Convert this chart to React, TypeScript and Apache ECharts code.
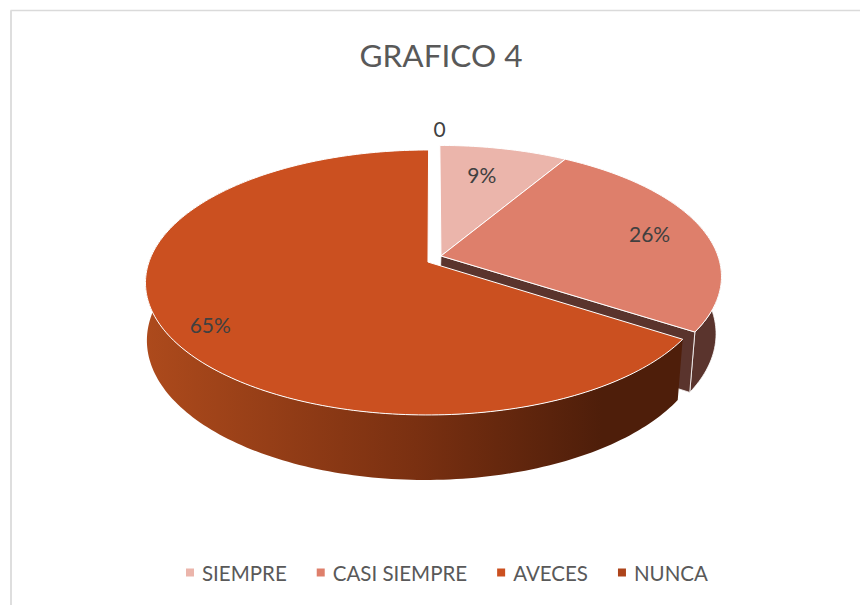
import React, { useEffect, useRef } from "react";
import * as echarts from "echarts";

const categories = ["SIEMPRE", "CASI SIEMPRE", "AVECES", "NUNCA"];
const shares = [8.5, 25.5, 65.4, 0];
const faceColors = ["#EBB5AB", "#DE7F6B", "#CB5020", "#AD441B"];
const titleText = "GRAFICO 4";

// projection of the disc
const CX = 432.5, CY = 259, RX = 278, RY = 128.4, PERSP = 0.1536, DEPTH = 57, BOTTOM_SHRINK = 1.012, BOTTOM_SHIFT = -2;
const EXPLODE = [[0.0306, -0.0236], [0.0306, -0.0236], [-0.0162, 0.0236], [0.03, -0.0236]];
const LABEL_RADIUS = [0.7, 0.76, 0.85, 1.18];
const LABEL_NUDGE = [[-5, -4], [9, -1], [5, 7], [0, 0]];
const WALL_DARK = "#5A342D";
const ORANGE_WALL = [
  { offset: 0, color: "#AD4A1C" },
  { offset: 0.5, color: "#7A3011" },
  { offset: 0.85, color: "#4E1E0A" },
  { offset: 1, color: "#4E1E0A" },
];

function project(i: number, theta: number, r: number, depth: boolean): number[] {
  const X = EXPLODE[i][0] + r * Math.sin(theta);
  const Y = EXPLODE[i][1] - r * Math.cos(theta);
  const w = (1 - PERSP * Y) * (depth ? BOTTOM_SHRINK : 1);
  return [CX + (depth ? BOTTOM_SHIFT : 0) + (RX * X) / w, CY + (RY * Y + (depth ? DEPTH : 0)) / w];
}

function arc(i: number, a: number, b: number, depth: boolean): number[][] {
  const n = Math.max(2, Math.ceil(Math.abs(b - a) / 0.02));
  const pts: number[][] = [];
  for (let k = 0; k <= n; k++) pts.push(project(i, a + ((b - a) * k) / n, 1, depth));
  return pts;
}

export default function App() {
  const ref = useRef<HTMLDivElement>(null);
  useEffect(() => {
    document.body.style.margin = "0";
    const chart = echarts.init(ref.current!, null, { renderer: "svg" });
    const total = shares.reduce((s, v) => s + v, 0);
    const renderSlice = (i: number) => (_p: any, api: any) => {
      const value = api.value(0);
      const before = shares.slice(0, i).reduce((s, v) => s + v, 0);
      const a = (before / total) * Math.PI * 2;
      const b = a + (value / total) * Math.PI * 2;
      const children: any[] = [];
      if (value > 0) {
        const wallA = Math.max(a, Math.PI * 0.35);
        const wallB = Math.min(b, Math.PI * 1.75);
        if (wallB > wallA) {
          children.push({
            type: "polygon",
            shape: { points: [...arc(i, wallA, wallB, false), ...arc(i, wallB, wallA, true)] },
            style: {
              fill: i === 2 ? { type: "linear", x: 0, y: 0, x2: 1, y2: 0, colorStops: ORANGE_WALL.map((s) => ({ offset: s.offset, color: s.color })) } : WALL_DARK,
              stroke: i === 2 ? "none" : "#FFFFFF",
              lineWidth: i === 2 ? 0 : 0.8,
            },
          });
        }
        if (b > Math.PI / 2 && b < Math.PI) {
          children.push({
            type: "polygon",
            shape: {
              points: [project(i, b, 0, false), project(i, b, 1, false), project(i, b, 1, true), project(i, b, 0, true)],
            },
            style: { fill: WALL_DARK, stroke: "#FFFFFF", lineWidth: 0.8 },
          });
        }
        children.push({
          type: "polygon",
          shape: { points: [project(i, a, 0, false), ...arc(i, a, b, false)] },
          style: { fill: faceColors[i], stroke: "#FFFFFF", lineWidth: 1 },
        });
      }
      const mid = value > 0 ? (a + b) / 2 : 0;
      const p = project(i, mid, LABEL_RADIUS[i], false);
      children.push({
        type: "text",
        z2: 10,
        x: p[0] + LABEL_NUDGE[i][0],
        y: p[1] + LABEL_NUDGE[i][1],
        style: {
          text: value > 0 ? `${Math.round(value)}%` : "0",
          fill: "#404040",
          fontFamily: "Lato",
          fontSize: 21,
          align: "center",
          verticalAlign: "middle",
        },
      });
      return { type: "group", children };
    };
    chart.setOption({
      animation: false,
      backgroundColor: "#FFFFFF",
      title: {
        text: titleText,
        left: 436,
        top: 34,
        textAlign: "center",
        textStyle: { fontFamily: "Lato", fontSize: 31.5, fontWeight: "normal", color: "#595959" },
      },
      legend: {
        data: categories,
        bottom: 17,
        left: 181,
        icon: "rect",
        itemWidth: 8,
        itemHeight: 8,
        itemGap: 30,
        textStyle: { fontFamily: "Lato", fontSize: 20.5, color: "#595959", padding: [0, 0, 0, 3] },
      },
      graphic: [
        { type: "line", shape: { x1: 10.5, y1: 10.5, x2: 860, y2: 10.5 }, style: { stroke: "#DADADA", lineWidth: 1.4 } },
        { type: "line", shape: { x1: 11, y1: 10.5, x2: 11, y2: 605 }, style: { stroke: "#DEDEDE", lineWidth: 2 } },
      ],
      series: categories.map((name, i) => ({
        type: "custom",
        name,
        coordinateSystem: "none",
        itemStyle: { color: faceColors[i] },
        renderItem: renderSlice(i),
        data: [[shares[i]]],
        silent: true,
      })),
    });
    return () => chart.dispose();
  }, []);
  return <div ref={ref} style={{ width: 860, height: 605, position: "absolute", left: 0, top: 0 }} />;
}
